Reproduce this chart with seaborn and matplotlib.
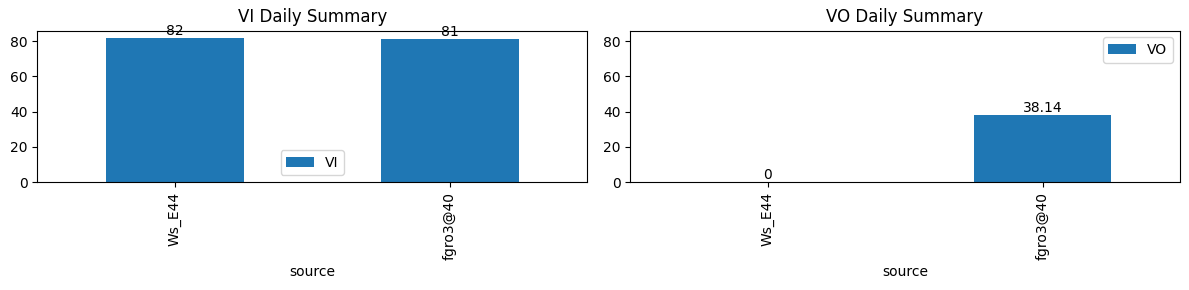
import matplotlib
matplotlib.use("Agg")
import matplotlib.pyplot as plt
import seaborn as sns
import pandas as pd

sources = ["Ws_E44", "fgro3@40"]
vi_values = [82, 81]
vo_values = [0, 38.14]
vi_labels = ["82", "81"]
vo_labels = ["0", "38.14"]

color = "#1f77b4"

fig, axes = plt.subplots(1, 2, figsize=(11.89, 2.9), dpi=100)

panels = [
    (axes[0], vi_values, vi_labels, "VI", "VI Daily Summary", "lower center"),
    (axes[1], vo_values, vo_labels, "VO", "VO Daily Summary", "upper right"),
]

for ax, vals, labs, name, title, loc in panels:
    df = pd.DataFrame({"source": sources, name: vals})
    sns.barplot(data=df, x="source", y=name, ax=ax, color=color, saturation=1,
                width=0.5, linewidth=0, label=name, errorbar=None)
    ax.bar_label(ax.containers[0], labels=labs)
    ax.set_xlim(-0.5, 1.5)
    ax.set_ylim(0, 86.1)
    ax.set_ylabel("")
    ax.set_xlabel("source")
    ax.set_title(title)
    ax.tick_params(axis="x", labelrotation=90)
    ax.legend(loc=loc)

fig.subplots_adjust(left=0.0315, right=0.9924, top=0.8948, bottom=0.3724, wspace=0.078)
fig.savefig("out.png", dpi=100)
